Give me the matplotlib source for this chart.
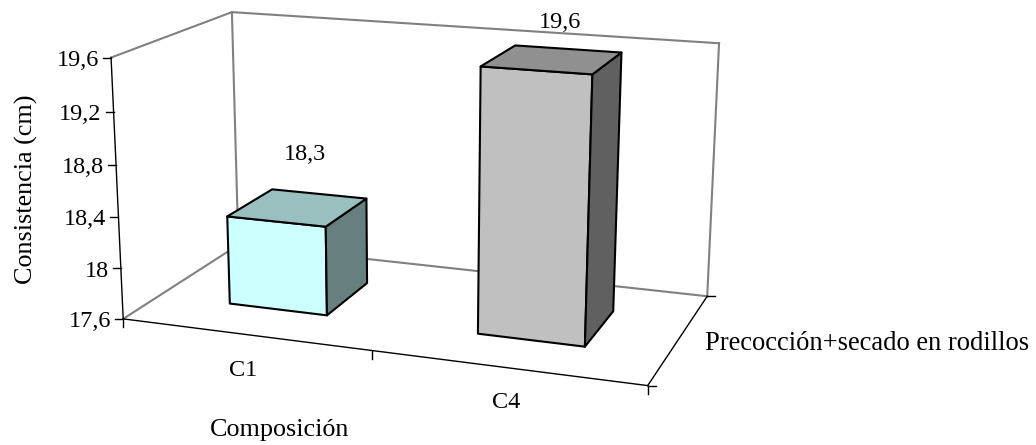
import numpy as np
import matplotlib
matplotlib.use("Agg")
import matplotlib.pyplot as plt
from matplotlib.patches import Polygon

plt.rcParams['font.family'] = ['Liberation Serif', 'DejaVu Serif']

categorias = ["C1", "C4"]
valores = [18.3, 19.6]
etiquetas = ["18,3", "19,6"]
colores = ["#CCFFFF", "#C0C0C0"]
yticks = [17.6, 18.0, 18.4, 18.8, 19.2, 19.6]
ytick_labels = ["17,6", "18", "18,4", "18,8", "19,2", "19,6"]
ymin, ymax = 17.6, 19.6
serie = "Precocción+secado en rodillos"

# esquinas de la caja en pixeles: (categoria, profundidad, valor) -> (px, py)
esquinas = [
    ((0, 0, ymin), (123, 319)),
    ((2, 0, ymin), (648, 385)),
    ((2, 1, ymin), (707, 297)),
    ((0, 1, ymin), (238.5, 244.5)),
    ((0, 0, ymax), (111, 58)),
    ((0, 1, ymax), (232, 12)),
    ((2, 1, ymax), (719, 43)),
]

# camara proyectiva ajustada a las esquinas
A = []
for (x, y, z), (u, v) in esquinas:
    z = (z - ymin) / (ymax - ymin)
    A.append([x, y, z, 1, 0, 0, 0, 0, -u*x, -u*y, -u*z, -u])
    A.append([0, 0, 0, 0, x, y, z, 1, -v*x, -v*y, -v*z, -v])
P = np.linalg.svd(np.array(A))[2][-1].reshape(3, 4)

def pr(x, y, z):
    h = P @ np.array([x, y, (z - ymin) / (ymax - ymin), 1])
    return h[0] / h[2], h[1] / h[2]

def oscurecer(color, f):
    return tuple(c * f for c in matplotlib.colors.to_rgb(color))

fig = plt.figure(figsize=(10.36, 4.45), dpi=100)
ax = fig.add_axes([0, 0, 1, 1])
ax.set_xlim(0, 1036)
ax.set_ylim(445, 0)
ax.axis("off")

def linea(a, b, **kw):
    ax.plot([a[0], b[0]], [a[1], b[1]], solid_capstyle="projecting", **kw)

# paredes del fondo
gris = dict(color="#808080", lw=1.5, zorder=1)
linea(pr(0, 0, ymin), pr(0, 1, ymin), **gris)
linea(pr(0, 1, ymin), pr(2, 1, ymin), **gris)
linea(pr(0, 1, ymin), pr(0, 1, ymax), **gris)
linea(pr(2, 1, ymin), pr(2, 1, ymax), **gris)
linea(pr(0, 0, ymax), pr(0, 1, ymax), **gris)
linea(pr(0, 1, ymax), pr(2, 1, ymax), **gris)

# ejes
negro = dict(color="black", lw=1.0, zorder=2)
linea(pr(0, 0, ymin), pr(0, 0, ymax), **negro)
linea(pr(0, 0, ymin), pr(2, 0, ymin), **negro)
linea(pr(2, 0, ymin), pr(2, 1, ymin), **negro)

for t, lab in zip(yticks, ytick_labels):
    px, py = pr(0, 0, t)
    linea((px - 8, py), (px, py), **negro)
    ax.text(px - 12, py + 3, lab, ha="right", va="center", fontsize=17.5)

for i in range(3):
    px, py = pr(i, 0, ymin)
    linea((px, py), (px, py + 8), **negro)
for d in [0, 1]:
    px, py = pr(2, d, ymin)
    linea((px, py), (px + 8, py), **negro)

# barras
ancho = 0.403
d0, d1 = 0.295, 0.705
for i, (cat, val, lab, col) in enumerate(zip(categorias, valores, etiquetas, colores)):
    x0 = i + 0.5 - ancho / 2
    x1 = i + 0.5 + ancho / 2
    frente = [pr(x0, d0, ymin), pr(x1, d0, ymin), pr(x1, d0, val), pr(x0, d0, val)]
    lado = [pr(x1, d0, ymin), pr(x1, d1, ymin), pr(x1, d1, val), pr(x1, d0, val)]
    tapa = [pr(x0, d0, val), pr(x1, d0, val), pr(x1, d1, val), pr(x0, d1, val)]
    for cara, f in [(frente, 1.0), (lado, 0.5), (tapa, 0.75)]:
        ax.add_patch(Polygon(cara, closed=True, facecolor=oscurecer(col, f),
                             edgecolor="black", lw=1.5, joinstyle="round", zorder=3))

ax.text(305, 155, etiquetas[0], ha="center", va="center", fontsize=17.5, zorder=5)
ax.text(560, 23, etiquetas[1], ha="center", va="center", fontsize=17.5, zorder=5)
ax.text(243, 370, categorias[0], ha="center", va="center", fontsize=17.5)
ax.text(506, 402, categorias[1], ha="center", va="center", fontsize=17.5)
ax.text(280, 430, "Composición", ha="center", va="center", fontsize=18.8)
ax.text(26, 189, "Consistencia (cm)", ha="center", va="center", rotation=90, fontsize=18.8)
ax.text(705, 343, serie, ha="left", va="center", fontsize=19.1)

fig.savefig("out.png", dpi=100)
